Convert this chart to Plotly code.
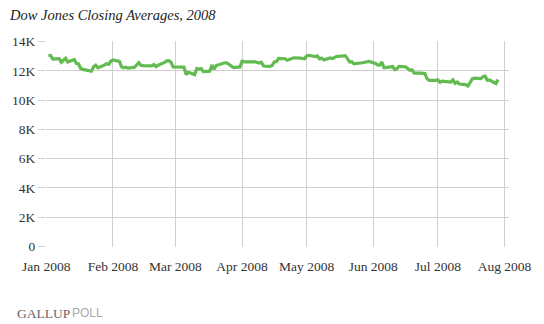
import plotly.graph_objects as go
import pandas as pd

dates = pd.bdate_range("2008-01-02", "2008-07-29")
holidays = ["2008-01-21", "2008-02-18", "2008-03-21", "2008-05-26", "2008-07-04"]
dates = [d for d in dates if d.strftime("%Y-%m-%d") not in holidays]

closes = [
    # Jan
    13044, 13057, 12800, 12827, 12589, 12735, 12853, 12606, 12778, 12501, 12467, 12159, 12099,
    11971, 12271, 12378, 12207, 12384, 12480, 12443, 12650,
    # Feb
    12743, 12636, 12265, 12200, 12248, 12182, 12240, 12374, 12552, 12376, 12349,
    12337, 12427, 12284, 12381, 12570, 12684, 12694, 12583, 12266,
    # Mar
    12258, 12214, 12254, 11740, 11894, 11740, 12156, 12111, 12146, 11951, 11972, 12392,
    12100, 12361, 12548, 12533, 12422, 12303, 12216, 12263,
    # Apr
    12654, 12609, 12627, 12610, 12612, 12577, 12527, 12581, 12326, 12303, 12362, 12620,
    12621, 12849, 12826, 12721, 12763, 12849, 12891, 12872, 12832, 12820,
    # May
    13011, 13058, 12970, 13020, 12814, 12866, 12746, 12877, 12832, 12899, 12993, 12986,
    13028, 12828, 12601, 12625, 12480, 12548, 12594, 12647, 12638,
    # Jun
    12503, 12402, 12391, 12605, 12210, 12281, 12289, 12084, 12141, 12308, 12270, 12160,
    12029, 12063, 11843, 11843, 11808, 11812, 11453, 11347, 11350,
    # Jul
    11382, 11216, 11288, 11231, 11385, 11147, 11230, 11100, 11055, 10963, 11239, 11446,
    11497, 11467, 11602, 11632, 11350, 11371, 11132, 11397,
]

x_ticks = ["2008-01-01", "2008-02-01", "2008-03-01", "2008-04-01",
           "2008-05-01", "2008-06-01", "2008-07-01", "2008-08-01"]
x_labels = ["Jan 2008", "Feb 2008", "Mar 2008", "Apr 2008",
            "May 2008", "Jun 2008", "Jul 2008", "Aug 2008"]
y_ticks = [0, 2000, 4000, 6000, 8000, 10000, 12000, 14000]
y_labels = ["0", "2K", "4K", "6K", "8K", "10K", "12K", "14K"]

serif = "Liberation Serif"

fig = go.Figure()
fig.add_trace(go.Scatter(
    x=dates, y=closes[:len(dates)], mode="lines",
    line=dict(color="#62bb50", width=3.2),
    hoverinfo="skip",
))

fig.update_layout(
    width=544, height=324,
    margin=dict(l=43, r=35, t=41, b=77),
    plot_bgcolor="white", paper_bgcolor="white",
    showlegend=False,
    title=dict(text="<i>Dow Jones Closing Averages, 2008</i>",
               font=dict(family=serif, size=14.5, color="#222"),
               x=10 / 544, xanchor="left", xref="container",
               y=1 - 15 / 324, yanchor="middle", yref="container"),
    xaxis=dict(
        range=["2007-12-31 21:00", "2008-08-03 02:00"],
        tickvals=x_ticks, ticktext=x_labels,
        showgrid=True, gridcolor="#cfcfcf", gridwidth=1,
        zeroline=False, showline=False, ticks="",
        ticklabelstandoff=9,
        tickfont=dict(family=serif, size=13.5, color="#333"),
    ),
    yaxis=dict(
        range=[-35, 14035],
        tickvals=y_ticks, ticktext=y_labels,
        showgrid=True, gridcolor="#cfcfcf", gridwidth=1,
        zeroline=False, showline=False,
        ticks="outside", ticklen=7, tickcolor="#cfcfcf", tickwidth=1,
        tickfont=dict(family=serif, size=13.5, color="#333"),
    ),
    annotations=[
        dict(text="GALLUP", xref="paper", yref="paper",
             x=-31 / 466, y=-(313 - 247) / 206,
             xanchor="left", yanchor="middle", showarrow=False,
             font=dict(family=serif, size=13.5, color="#666")),
        dict(text="POLL", xref="paper", yref="paper",
             x=(67 - 43) / 466, y=-(313 - 247) / 206,
             xanchor="left", yanchor="middle", showarrow=False,
             font=dict(family="Liberation Sans", size=12, color="#aaa")),
    ],
)

fig.write_html("out.html")
